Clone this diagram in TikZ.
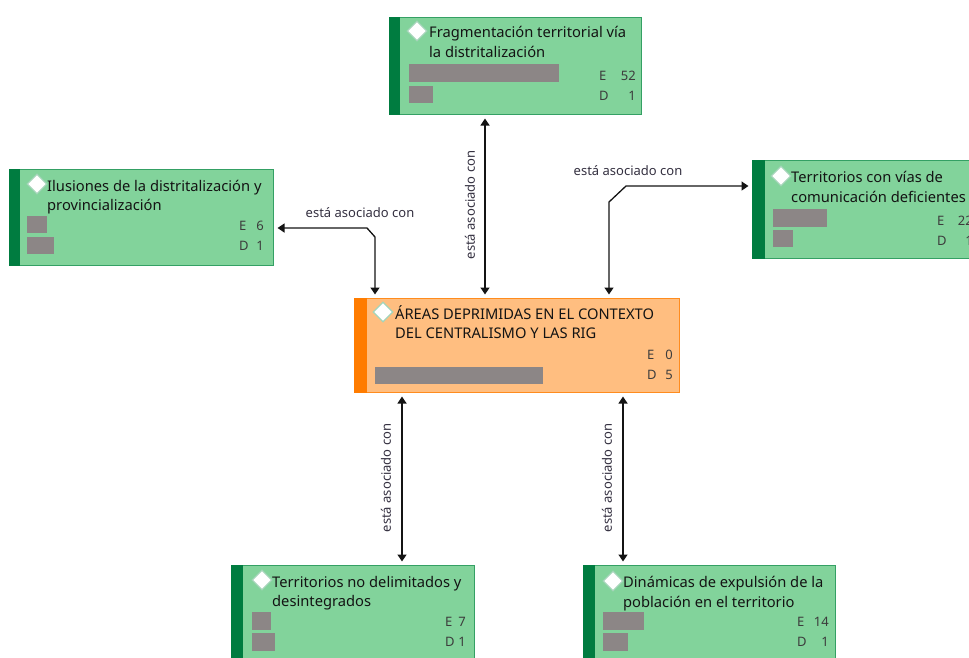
\documentclass[tikz,border=0pt]{standalone}
\usepackage{fontspec}
\setmainfont{Noto Sans}
\usetikzlibrary{arrows.meta,calc,shapes.geometric}

\definecolor{gfill}{RGB}{130,211,155}
\definecolor{gline}{RGB}{52,160,100}
\definecolor{gbar}{RGB}{0,124,64}
\definecolor{ofill}{RGB}{255,190,128}
\definecolor{oline}{RGB}{255,140,30}
\definecolor{obar}{RGB}{255,124,0}
\definecolor{grey}{RGB}{140,134,134}
\definecolor{ink}{RGB}{20,20,20}
\definecolor{soft}{RGB}{60,60,60}
\definecolor{lbl}{RGB}{52,48,64}

\tikzset{
  gbox/.style={draw=gline, fill=gfill, line width=1pt, anchor=north west, inner sep=0},
  obox/.style={draw=oline, fill=ofill, line width=1pt, anchor=north west, inner sep=0},
  diam/.style={diamond, draw=gline!45!white, fill=white, line width=1.2pt, inner sep=0,
    minimum width=20pt, minimum height=20pt},
  ttl/.style={anchor=base west, inner sep=0, text=ink, font=\fontsize{14.7}{17}\selectfont},
  ecount/.style={anchor=base west, inner sep=0, text=soft, font=\fontsize{13}{15}\selectfont},
  ncount/.style={anchor=base east, inner sep=0, text=soft, font=\fontsize{13}{15}\selectfont},
  rel/.style={inner sep=0, text=lbl, font=\fontsize{13}{15}\selectfont},
  arr/.style={{Triangle[width=9pt,length=7pt]}-{Triangle[width=9pt,length=7pt]},
    line width=1.3pt, draw=ink, shorten <=3.5pt, shorten >=3.5pt},
}

\begin{document}
\begin{tikzpicture}[x=1pt,y=-1pt]
\useasboundingbox (0,0) rectangle (969,657);
\clip (0,0) rectangle (969,657);

% ---- top concept
\node[gbox, minimum width=252pt, minimum height=97pt] (top) at (389,17) {};
\fill[gbar] (top.north west) rectangle ($(top.south west)+(11,0)$);
\node[diam] (dtop) at (417,31) {};
\node[ttl] (ttop1) at (429,37) {Fragmentación territorial vía};
\node[ttl] (ttop2) at (429,57) {la distritalización};
\fill[grey] (409,64) rectangle (559,82);
\fill[grey] (409,86) rectangle (433,103);
\node[ecount] (etop) at (599,80) {E};
\node[ncount] (ntop) at (636,80) {52};
\node[ecount] (dtopl) at (599,100) {D};
\node[ncount] (mtop) at (636,100) {1};

% ---- left concept
\node[gbox, minimum width=264pt, minimum height=96pt] (left) at (9,169) {};
\fill[gbar] (left.north west) rectangle ($(left.south west)+(11,0)$);
\node[diam] (dleft) at (37,184) {};
\node[ttl] (tleft1) at (47,191) {Ilusiones de la distritalización y};
\node[ttl] (tleft2) at (47,210) {provincialización};
\fill[grey] (27,216) rectangle (47,233);
\fill[grey] (27,237) rectangle (54,254);
\node[ecount] (eleft) at (239,230) {E};
\node[ncount] (nleft) at (264,230) {6};
\node[ecount] (dleftl) at (239,250) {D};
\node[ncount] (mleft) at (264,250) {1};

% ---- right concept (runs past the right edge)
\node[gbox, minimum width=240pt, minimum height=98pt] (right) at (752,160) {};
\fill[gbar] (right.north west) rectangle ($(right.south west)+(13,0)$);
\node[diam] (dright) at (781,176) {};
\node[ttl] (tright1) at (791,182) {Territorios con vías de};
\node[ttl] (tright2) at (791,202) {comunicación deficientes};
\fill[grey] (773,209) rectangle (827,227);
\fill[grey] (773,230) rectangle (793,247);
\node[ecount] (eright) at (937,225) {E};
\node[ncount] (nright) at (973,225) {22};
\node[ecount] (dright2) at (937,245) {D};
\node[ncount] (mright) at (973,245) {1};

% ---- central concept
\node[obox, minimum width=325pt, minimum height=94pt] (mid) at (354,298) {};
\fill[obar] (mid.north west) rectangle ($(mid.south west)+(13,0)$);
\node[diam] (dmid) at (383,312) {};
\node[ttl] (tmid1) at (395,319) {ÁREAS DEPRIMIDAS EN EL CONTEXTO};
\node[ttl] (tmid2) at (395,338) {DEL CENTRALISMO Y LAS RIG};
\fill[grey] (375,367) rectangle (543,384);
\node[ecount] (emid) at (647,359) {E};
\node[ncount] (nmid) at (673,359) {0};
\node[ecount] (dmidl) at (647,379) {D};
\node[ncount] (mmid) at (673,379) {5};

% ---- bottom left concept
\node[gbox, minimum width=243pt, minimum height=97pt] (bl) at (231,565) {};
\fill[gbar] (bl.north west) rectangle ($(bl.south west)+(12,0)$);
\node[diam] (dbl) at (262,580) {};
\node[ttl] (tbl1) at (272,587) {Territorios no delimitados y};
\node[ttl] (tbl2) at (272,606) {desintegrados};
\fill[grey] (252,612) rectangle (271,630);
\fill[grey] (252,633) rectangle (275,651);
\node[ecount] (ebl) at (445,626) {E};
\node[ncount] (nbl) at (466,626) {7};
\node[ecount] (dbll) at (445,646) {D};
\node[ncount] (mbl) at (466,646) {1};

% ---- bottom right concept
\node[gbox, minimum width=252pt, minimum height=97pt] (br) at (583,565) {};
\fill[gbar] (br.north west) rectangle ($(br.south west)+(12,0)$);
\node[diam] (dbr) at (613,581) {};
\node[ttl] (tbr1) at (623,587) {Dinámicas de expulsión de la};
\node[ttl] (tbr2) at (623,607) {población en el territorio};
\fill[grey] (603,612) rectangle (644,630);
\fill[grey] (603,633) rectangle (628,651);
\node[ecount] (ebr) at (797,626) {E};
\node[ncount] (nbr) at (829,626) {14};
\node[ecount] (dbrl) at (797,646) {D};
\node[ncount] (mbr) at (829,646) {1};

% ---- relations
\coordinate (xT) at (485,0);
\coordinate (xBL) at (402,0);
\coordinate (xBR) at (623,0);
\coordinate (kL1) at (375,237);
\coordinate (kL2) at (367,228);
\coordinate (kR1) at (609,202);
\coordinate (kR2) at (626,186);

\draw[arr] (top.south -| xT) -- (mid.north -| xT);
\draw[arr] (mid.north -| kL1) -- (kL1) -- (kL2) -- (kL2 -| left.east);
\draw[arr] (mid.north -| kR1) -- (kR1) -- (kR2) -- (kR2 -| right.west);
\draw[arr] (mid.south -| xBL) -- (bl.north -| xBL);
\draw[arr] (mid.south -| xBR) -- (br.north -| xBR);

\node[rel, rotate=90] (rT) at (470,205) {está asociado con};
\node[rel, rotate=90] (rBL) at (386,478) {está asociado con};
\node[rel, rotate=90] (rBR) at (607,478) {está asociado con};
\node[rel, anchor=base] (rL) at (360,217) {está asociado con};
\node[rel, anchor=base] (rR) at (628,175) {está asociado con};
\end{tikzpicture}
\end{document}
